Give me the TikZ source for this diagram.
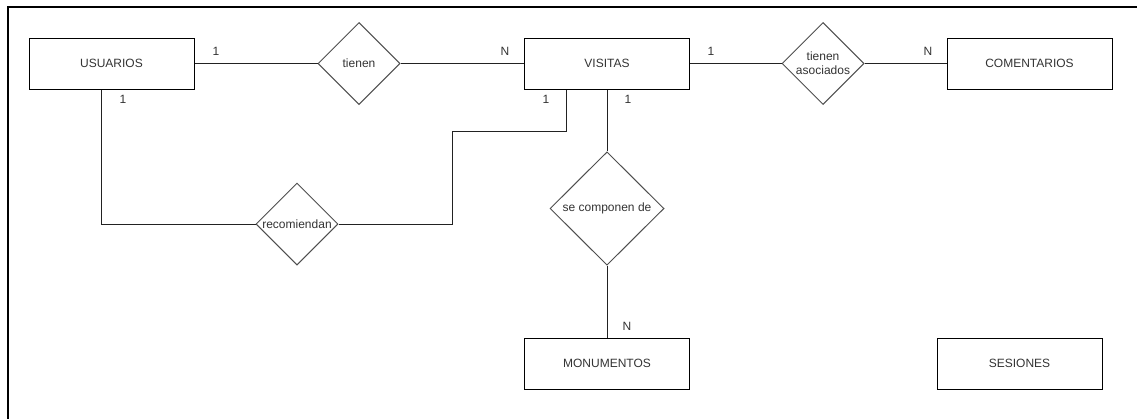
\documentclass[tikz,border=0pt]{standalone}
\usepackage{fontspec}
\setmainfont{Liberation Sans}
\usepackage{tikz}
\usetikzlibrary{calc}
\usetikzlibrary{shapes}
\usetikzlibrary{shapes.geometric}
\usetikzlibrary{positioning}
\definecolor{txtgray}{HTML}{333333}
\definecolor{linegray}{HTML}{222222}
\tikzset{>=latex}
\tikzstyle{entity} = [draw = black, line width = 0.75pt, rectangle, minimum width = 123.75pt, minimum height = 38.25pt, inner sep = 1, text = txtgray, font = \fontsize{9}{10.5}\selectfont]
\tikzstyle{relation} = [draw = linegray!80, line width = 0.75pt, diamond, inner sep = 0, minimum width = 61.5pt, minimum height = 61.5pt, label = {[text = txtgray, font = \fontsize{9}{10.5}\selectfont, align = center]center:#1}]
\tikzstyle{card} = [draw = none, inner sep = 1, text = txtgray, font = \fontsize{9}{10.5}\selectfont]
\tikzstyle{link} = [draw = linegray, line width = 0.75pt]

\begin{document}
\begin{tikzpicture}[x = 0.75pt, y = -0.75pt]
\useasboundingbox (0, 0) rectangle (1137, 419);
\draw [draw = black, line width = 0.9pt] (1137, 7) -- (8, 7) -- (8, 419);
\node [entity] (usuarios) at (111.5, 63.5) {USUARIOS};
\node [entity] (visitas) at (607, 63.5) {VISITAS};
\node [entity] (comentarios) at (1029.5, 63.5) {COMENTARIOS};
\node [entity] (monumentos) at (607, 363.5) {MONUMENTOS};
\node [entity] (sesiones) at (1019.5, 363.5) {SESIONES};
\node [relation = tienen] (tienen) at (359, 63.5) {};
\node [relation = {tienen\\asociados}] (asociados) at (823, 63.5) {};
\node [relation = recomiendan] (recomiendan) at (297, 224) {};
\node [relation = {se componen de}, minimum width = 85.5pt, minimum height = 85pt] (componen) at (607, 208.5) {};
\node [card] (c1) at (216, 51) {1};
\node [card] (c2) at (505, 51) {N};
\node [card] (c3) at (711, 51) {1};
\node [card] (c4) at (928, 51) {N};
\node [card] (c5) at (123, 99) {1};
\node [card] (c6) at (546, 99) {1};
\node [card] (c7) at (628, 99) {1};
\node [card] (c8) at (627, 326) {N};
\coordinate (codo) at (452, 131);
\draw [link] (usuarios) to (tienen);
\draw [link] (tienen) to (visitas);
\draw [link] (visitas) to (asociados);
\draw [link] (asociados) to (comentarios);
\draw [link] (101, 0 |- usuarios.south) |- (recomiendan.west);
\draw [link] (recomiendan.east) -| (codo) -| (566, 0 |- visitas.south);
\draw [link] (visitas) to (componen);
\draw [link] (componen) to (monumentos);
\end{tikzpicture}
\end{document}
